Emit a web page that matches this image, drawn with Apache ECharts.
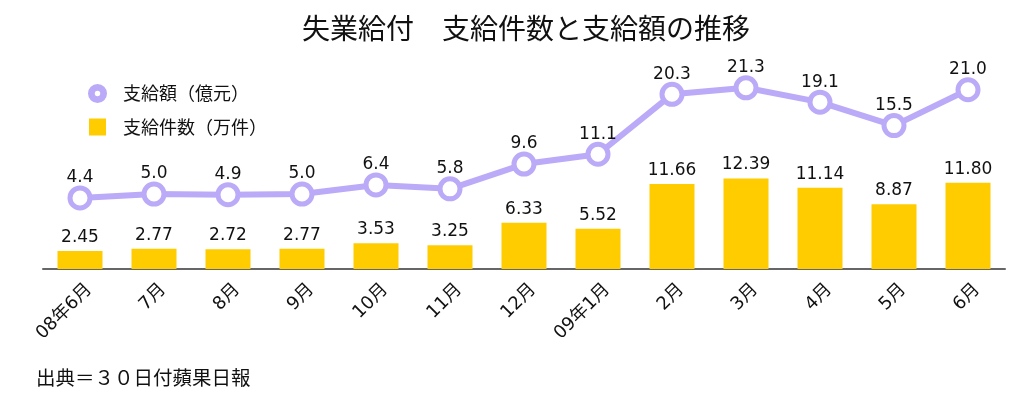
<!DOCTYPE html>
<html>
<head>
<meta charset="utf-8">
<script src="https://cdn.jsdelivr.net/npm/echarts@6/dist/echarts.min.js"></script>
<style>
  html, body { margin: 0; padding: 0; background: #fff; }
  #chart { width: 1028px; height: 397px; }
</style>
</head>
<body>
<div id="chart"></div>
<script>
// 月
const months = ['08年6月', '7月', '8月', '9月', '10月', '11月', '12月', '09年1月', '2月', '3月', '4月', '5月', '6月'];
// 支給額（億元）
const amount = [4.4, 5.0, 4.9, 5.0, 6.4, 5.8, 9.6, 11.1, 20.3, 21.3, 19.1, 15.5, 21.0];
// 支給件数（万件）
const cases = [2.45, 2.77, 2.72, 2.77, 3.53, 3.25, 6.33, 5.52, 11.66, 12.39, 11.14, 8.87, 11.80];

const font = '"Noto Sans CJK JP", "Noto Sans", sans-serif';
const numFont = '"DejaVu Sans", "Noto Sans CJK JP", sans-serif';
const lineColor = '#bbaaf7';
const barColor = '#ffcc00';
// ring icon for the line legend
const ringIcon = 'path://M8,0A8,8,0,1,1,8,16A8,8,0,1,1,8,0ZM8,4.5A3.5,3.5,0,1,0,8,11.5A3.5,3.5,0,1,0,8,4.5Z';

const chart = echarts.init(document.getElementById('chart'));
chart.setOption({
  textStyle: { fontFamily: font },
  title: {
    text: '失業給付　支給件数と支給額の推移',
    left: 297,
    top: 9,
    textStyle: { fontSize: 28, fontWeight: 'normal', color: '#111', fontFamily: font }
  },
  legend: {
    orient: 'vertical',
    left: 83,
    top: 79,
    itemWidth: 17,
    itemHeight: 17,
    itemGap: 15,
    textStyle: { fontSize: 18, color: '#111', fontFamily: font, padding: [0, 0, 0, 12] },
    data: [
      { name: '支給額（億元）', icon: ringIcon, itemStyle: { color: lineColor } },
      { name: '支給件数（万件）', icon: 'rect' }
    ]
  },
  graphic: [{
    type: 'text',
    left: 36,
    top: 368,
    style: { text: '出典＝３０日付蘋果日報', fontSize: 19.5, fill: '#111', fontFamily: font }
  }],
  grid: { left: 43, right: 23, top: 50, bottom: 128 },
  xAxis: {
    type: 'category',
    data: months,
    axisLine: { lineStyle: { color: '#666', width: 2 } },
    axisTick: { show: false },
    axisLabel: {
      rotate: 45, fontSize: 18, color: '#111', margin: 27, interval: 0, fontFamily: numFont,
      padding: [0, -13, 0, 0]
    }
  },
  yAxis: [
    { type: 'value', min: 0, max: 30, show: false },
    { type: 'value', min: -6.5, max: 27.1, show: false }
  ],
  series: [
    {
      name: '支給件数（万件）',
      type: 'bar',
      yAxisIndex: 0,
      data: cases,
      barWidth: 45,
      itemStyle: { color: barColor },
      label: {
        show: true, position: 'top', distance: 5, fontSize: 17, color: '#111', fontFamily: numFont,
        formatter: p => p.value.toFixed(2)
      }
    },
    {
      name: '支給額（億元）',
      type: 'line',
      yAxisIndex: 1,
      data: amount,
      symbol: 'circle',
      symbolSize: 20,
      lineStyle: { color: lineColor, width: 6 },
      itemStyle: { color: '#fff', borderColor: lineColor, borderWidth: 5 },
      label: {
        show: true, position: 'top', distance: -1, fontSize: 17, color: '#111', fontFamily: numFont,
        formatter: p => p.value.toFixed(1)
      },
      z: 3
    }
  ]
});
</script>
</body>
</html>
